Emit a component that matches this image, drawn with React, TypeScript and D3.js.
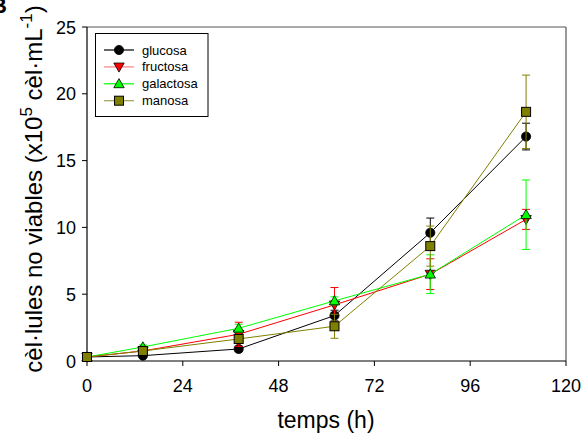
import React from "react";
import * as d3 from "d3";

const times = [0, 14, 38, 62, 86, 110];
const seriesNames = ["glucosa", "fructosa", "galactosa", "manosa"];
const glucosa = [0.3, 0.4, 0.9, 3.4, 9.6, 16.8];
const glucosaErr = [0.05, 0.1, 0.2, 0.4, 1.1, 1.0];
const fructosa = [0.3, 0.75, 2.0, 4.2, 6.5, 10.6];
const fructosaErr = [0.05, 0.1, 0.9, 1.3, 1.15, 0.75];
const galactosa = [0.3, 1.05, 2.45, 4.5, 6.5, 10.95];
const galactosaErr = [0.05, 0.15, 0.3, 0.3, 1.45, 2.6];
const manosa = [0.3, 0.75, 1.65, 2.6, 8.6, 18.65];
const manosaErr = [0.05, 0.1, 0.3, 0.9, 1.5, 2.75];
const xTicks = [0, 24, 48, 72, 96, 120];
const yTicks = [0, 5, 10, 15, 20, 25];

const W = 583;
const H = 437;
const L = 87, R = 566, T = 27, B = 361;
const FONT = "'Liberation Sans', Arial, sans-serif";

type Marker = "circle" | "down" | "up" | "square";
const styles: { line: string; fill: string; legendLine: string; marker: Marker }[] = [
  { line: "#000000", fill: "#000000", legendLine: "#000000", marker: "circle" },
  { line: "#ff0000", fill: "#ff0000", legendLine: "#ff8080", marker: "down" },
  { line: "#00ff00", fill: "#00ff00", legendLine: "#00ff00", marker: "up" },
  { line: "#808000", fill: "#808000", legendLine: "#a0a050", marker: "square" },
];
const values = [glucosa, fructosa, galactosa, manosa];
const errors = [glucosaErr, fructosaErr, galactosaErr, manosaErr];

function MarkerShape({ type, x, y, fill }: { type: Marker; x: number; y: number; fill: string }) {
  const stroke = "#000";
  if (type === "circle") return <circle cx={x} cy={y} r={4.6} fill={fill} stroke={stroke} strokeWidth={0.8} />;
  if (type === "square") return <rect x={x - 4.5} y={y - 4.5} width={9} height={9} fill={fill} stroke={stroke} strokeWidth={1} />;
  const s = 5.2;
  const pts =
    type === "up"
      ? `${x},${y - s} ${x + s},${y + s * 0.75} ${x - s},${y + s * 0.75}`
      : `${x},${y + s} ${x + s},${y - s * 0.75} ${x - s},${y - s * 0.75}`;
  return <polygon points={pts} fill={fill} stroke={stroke} strokeWidth={0.8} />;
}

export default function App() {
  const x = d3.scaleLinear().domain([0, 120]).range([L, R]);
  const y = d3.scaleLinear().domain([0, 25]).range([B, T]);
  const line = d3
    .line<number>()
    .x((_, i) => x(times[i]))
    .y((d) => y(d));

  return (
    <svg width={W} height={H} style={{ position: "absolute", left: 0, top: 0, background: "#fff" }} fontFamily={FONT}>
      <rect x={0} y={0} width={W} height={H} fill="#fff" />
      <text x={-9} y={13} fontSize={22} fontWeight="bold" fill="#000">B</text>
      {/* frame */}
      <line x1={L} y1={T} x2={R} y2={T} stroke="#555" strokeWidth={1.2} />
      <line x1={R} y1={T} x2={R} y2={B} stroke="#555" strokeWidth={1.2} />
      <line x1={L} y1={T} x2={L} y2={B} stroke="#000" strokeWidth={1.2} />
      <line x1={L} y1={B} x2={R} y2={B} stroke="#000" strokeWidth={1.2} />
      {xTicks.map((t) => (
        <g key={"xt" + t}>
          <line x1={x(t)} x2={x(t)} y1={B} y2={B + 5} stroke="#000" />
          <text x={x(t)} y={392} fontSize={18} textAnchor="middle" fill="#000">{t}</text>
        </g>
      ))}
      {yTicks.map((t) => (
        <g key={"yt" + t}>
          <line x1={L - 5} x2={L} y1={y(t)} y2={y(t)} stroke="#000" />
          <text x={76} y={y(t) + 6.5} fontSize={18} textAnchor="end" fill="#000">{t}</text>
        </g>
      ))}
      <text x={326} y={428} fontSize={23} textAnchor="middle" fill="#000">temps (h)</text>
      <text transform="translate(42,189) rotate(-90)" fontSize={24} textAnchor="middle" fill="#000">
        cèl·lules no viables (x10<tspan dy={-10} fontSize={17}>5</tspan>
        <tspan dy={10}> cèl·mL</tspan>
        <tspan dy={-10} fontSize={17}>-1</tspan>
        <tspan dy={10}>)</tspan>
      </text>
      {/* series */}
      {values.map((vals, si) => {
        const st = styles[si];
        return (
          <g key={"s" + si}>
            <path d={line(vals) || ""} fill="none" stroke={st.line} strokeWidth={1} />
            {vals.map((v, i) => {
              const e = errors[si][i];
              const cx = x(times[i]);
              return (
                <g key={"e" + i} stroke={st.line} strokeWidth={1}>
                  <line x1={cx} x2={cx} y1={y(v - e)} y2={y(v + e)} />
                  <line x1={cx - 4} x2={cx + 4} y1={y(v + e)} y2={y(v + e)} />
                  <line x1={cx - 4} x2={cx + 4} y1={y(v - e)} y2={y(v - e)} />
                </g>
              );
            })}
            {vals.map((v, i) => (
              <MarkerShape key={"m" + i} type={st.marker} x={x(times[i])} y={y(v)} fill={st.fill} />
            ))}
          </g>
        );
      })}
      {/* legend */}
      <rect x={95.5} y={33.5} width={112.5} height={83} fill="#fff" stroke="#000" strokeWidth={1} />
      {seriesNames.map((n, i) => {
        const ly = 50 + i * 16.9;
        const st = styles[i];
        return (
          <g key={"lg" + n}>
            <line x1={104} x2={134} y1={ly} y2={ly} stroke={st.legendLine} strokeWidth={1.2} />
            <MarkerShape type={st.marker} x={119} y={ly} fill={st.fill} />
            <text x={142} y={ly + 4.5} fontSize={13} fill="#000">{n}</text>
          </g>
        );
      })}
    </svg>
  );
}
